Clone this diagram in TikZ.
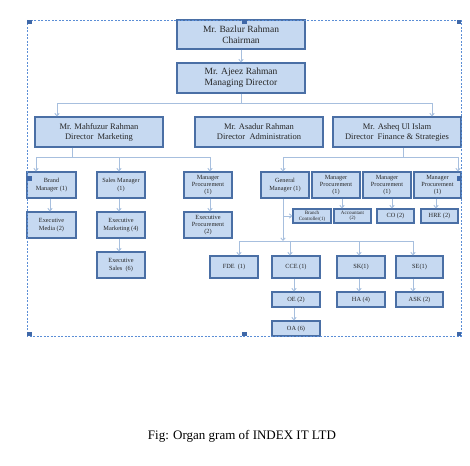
\documentclass[tikz,border=0pt]{standalone}
\usepackage{fontspec}
\setmainfont{Liberation Serif}
\usetikzlibrary{arrows.meta}
\definecolor{boxfill}{HTML}{C6D9F1}
\definecolor{boxline}{HTML}{4A6FA5}
\definecolor{conncol}{HTML}{A7BFDE}
\definecolor{framecol}{HTML}{5B8ED6}
\definecolor{handlecol}{HTML}{3F68A8}
\newcommand\bx[7]{\node[#1, minimum width={(#5)-(#3)}, minimum height={(#6)-(#4)}] (#2) at ({((#3)+(#5))/2},{((#4)+(#6))/2}) {#7};}
\begin{document}
\begin{tikzpicture}[x=1pt,y=-1pt,
 box/.style={draw=boxline, fill=boxfill, line width=1.1pt, inner sep=0pt, align=center, text=black!85},
 big/.style={box, font=\fontsize{9.5}{11}\selectfont},
 dir/.style={box, font=\fontsize{8.5}{10}\selectfont},
 sm/.style={box, font=\fontsize{6.3}{7.3}\selectfont},
 tiny/.style={box, font=\fontsize{5}{5.6}\selectfont},
 conn/.style={draw=conncol, line width=0.9pt},
 arr/.style={conn, -{Straight Barb[length=2.5pt,width=4.5pt]}},
 handle/.style={fill=handlecol}
]
\useasboundingbox (0,0) rectangle (470,465);
% top
\bx{big}{ch}{177}{20}{305}{49}{Mr. Bazlur Rahman\\Chairman}
\bx{big}{md}{177}{63}{305}{93}{Mr. Ajeez Rahman\\Managing Director}
% directors
\bx{dir}{dm}{35}{117}{163}{147}{Mr. Mahfuzur Rahman\\Director~~Marketing}
\bx{dir}{da}{195}{117}{323}{147}{Mr. Asadur Rahman\\Director~~Administration}
\bx{dir}{df}{333}{117}{461}{147}{Mr. Asheq Ul Islam\\Director~~Finance \& Strategies}
% marketing branch
\bx{sm}{bm}{27}{172}{76}{198}{Brand\\Manager (1)}
\bx{sm}{sl}{97}{172}{145}{198}{Sales Manager\\(1)}
\bx{sm}{mp1}{184}{172}{232}{198}{Manager\\Procurement\\(1)}
\bx{sm}{em}{27}{212}{76}{238}{Executive\\Media (2)}
\bx{sm}{exm}{97}{212}{145}{238}{Executive\\Marketing (4)}
\bx{sm}{exp}{184}{212}{232}{238}{Executive\\Procurement\\(2)}
\bx{sm}{exs}{97}{252}{145}{278}{Executive\\Sales~~(6)}
% finance branch
\bx{sm}{gm}{261}{172}{309}{198}{General\\Manager (1)}
\bx{sm}{mp2}{312}{172}{360}{198}{Manager\\Procurement\\(1)}
\bx{sm}{mp3}{363}{172}{411}{198}{Manager\\Procurement\\(1)}
\bx{sm}{mp4}{414}{172}{461}{198}{Manager\\Procurement\\(1)}
\bx{tiny}{bc}{293}{209}{331}{223}{Branch\\Controller(1)}
\bx{tiny}{acc}{334}{209}{371}{223}{Accountant\\(2)}
\bx{sm}{co}{377}{209}{414}{223}{CO (2)}
\bx{sm}{hre}{421}{209}{458}{223}{HRE (2)}
\bx{sm}{fde}{210}{256}{258}{278}{FDE~~(1)}
\bx{sm}{cce}{272}{256}{320}{278}{CCE (1)}
\bx{sm}{sk}{337}{256}{385}{278}{SK(1)}
\bx{sm}{se}{396}{256}{443}{278}{SE(1)}
\bx{sm}{oe}{272}{292}{320}{307}{OE (2)}
\bx{sm}{ha}{337}{292}{385}{307}{HA (4)}
\bx{sm}{ask}{396}{292}{443}{307}{ASK (2)}
\bx{sm}{oa}{272}{321}{320}{336}{OA (6)}
% connectors
\draw[arr] (ch.south) -- (md.north);
\coordinate (b1) at (241,103);
\draw[conn] (md.south) -- (b1);
\draw[arr] (b1) -| ([xshift=-42]dm.north);
\draw[arr] (b1) -| ([xshift=35]df.north);
\coordinate (b2) at (72,157);
\draw[conn] (dm.south -| b2) -- (b2);
\draw[arr] (b2) -| ([xshift=-15.5]bm.north);
\draw[arr] (b2) -| ([xshift=-2]sl.north);
\draw[arr] (b2) -| ([xshift=2]mp1.north);
\draw[arr] ([xshift=-1.5]bm.south) -- ([xshift=-1.5]em.north);
\draw[arr] ([xshift=-2]sl.south) -- ([xshift=-2]exm.north);
\draw[arr] ([xshift=-2]exm.south) -- ([xshift=-2]exs.north);
\draw[arr] ([xshift=2]mp1.south) -- ([xshift=2]exp.north);
\coordinate (b3) at (403,157);
\draw[conn] (df.south -| b3) -- (b3);
\draw[arr] (b3) -| ([xshift=-2]gm.north);
\draw[arr] (b3) -| ([xshift=20.5]mp4.north);
\coordinate (b4) at (283,241);
\draw[arr] ([xshift=-2]gm.south) -- (b4);
\draw[arr] (bc.west -| b4) -- (bc.west);
\draw[arr] (b4) -| ([xshift=5]fde.north);
\draw[arr] (b4) -| ([xshift=-6]cce.north);
\draw[arr] (b4) -| ([xshift=-2]sk.north);
\draw[arr] (b4) -| ([xshift=-6.5]se.north);
\draw[arr] ([xshift=-2]cce.south) -- ([xshift=-2]oe.north);
\draw[arr] ([xshift=-2]oe.south) -- ([xshift=-2]oa.north);
\draw[arr] ([xshift=-2]sk.south) -- ([xshift=-2]ha.north);
\draw[arr] ([xshift=-6.5]se.south) -- ([xshift=-6.5]ask.north);
\draw[arr] ([xshift=6]mp2.south) -- ([xshift=-10.5]acc.north);
\draw[arr] ([xshift=5]mp3.south) -- ([xshift=-3.5]co.north);
\draw[arr] ([xshift=-1.5]mp4.south) -- ([xshift=-3.5]hre.north);
% selection frame
\draw[framecol, line width=0.8pt, dash pattern=on 2pt off 1.5pt] (27,20) rectangle (461,336);
\foreach \hx in {27,242,456.5}{
  \fill[handle] (\hx,20) rectangle ++(4.5,4.5);
  \fill[handle] (\hx,331.5) rectangle ++(4.5,4.5);
}
\fill[handle] (27,176) rectangle ++(4.5,4.5);
\fill[handle] (456.5,176) rectangle ++(4.5,4.5);
% caption
\node[font=\fontsize{13}{15}\selectfont] (cap) at (242,436) {Fig: Organ gram of INDEX IT LTD};
\end{tikzpicture}
\end{document}
